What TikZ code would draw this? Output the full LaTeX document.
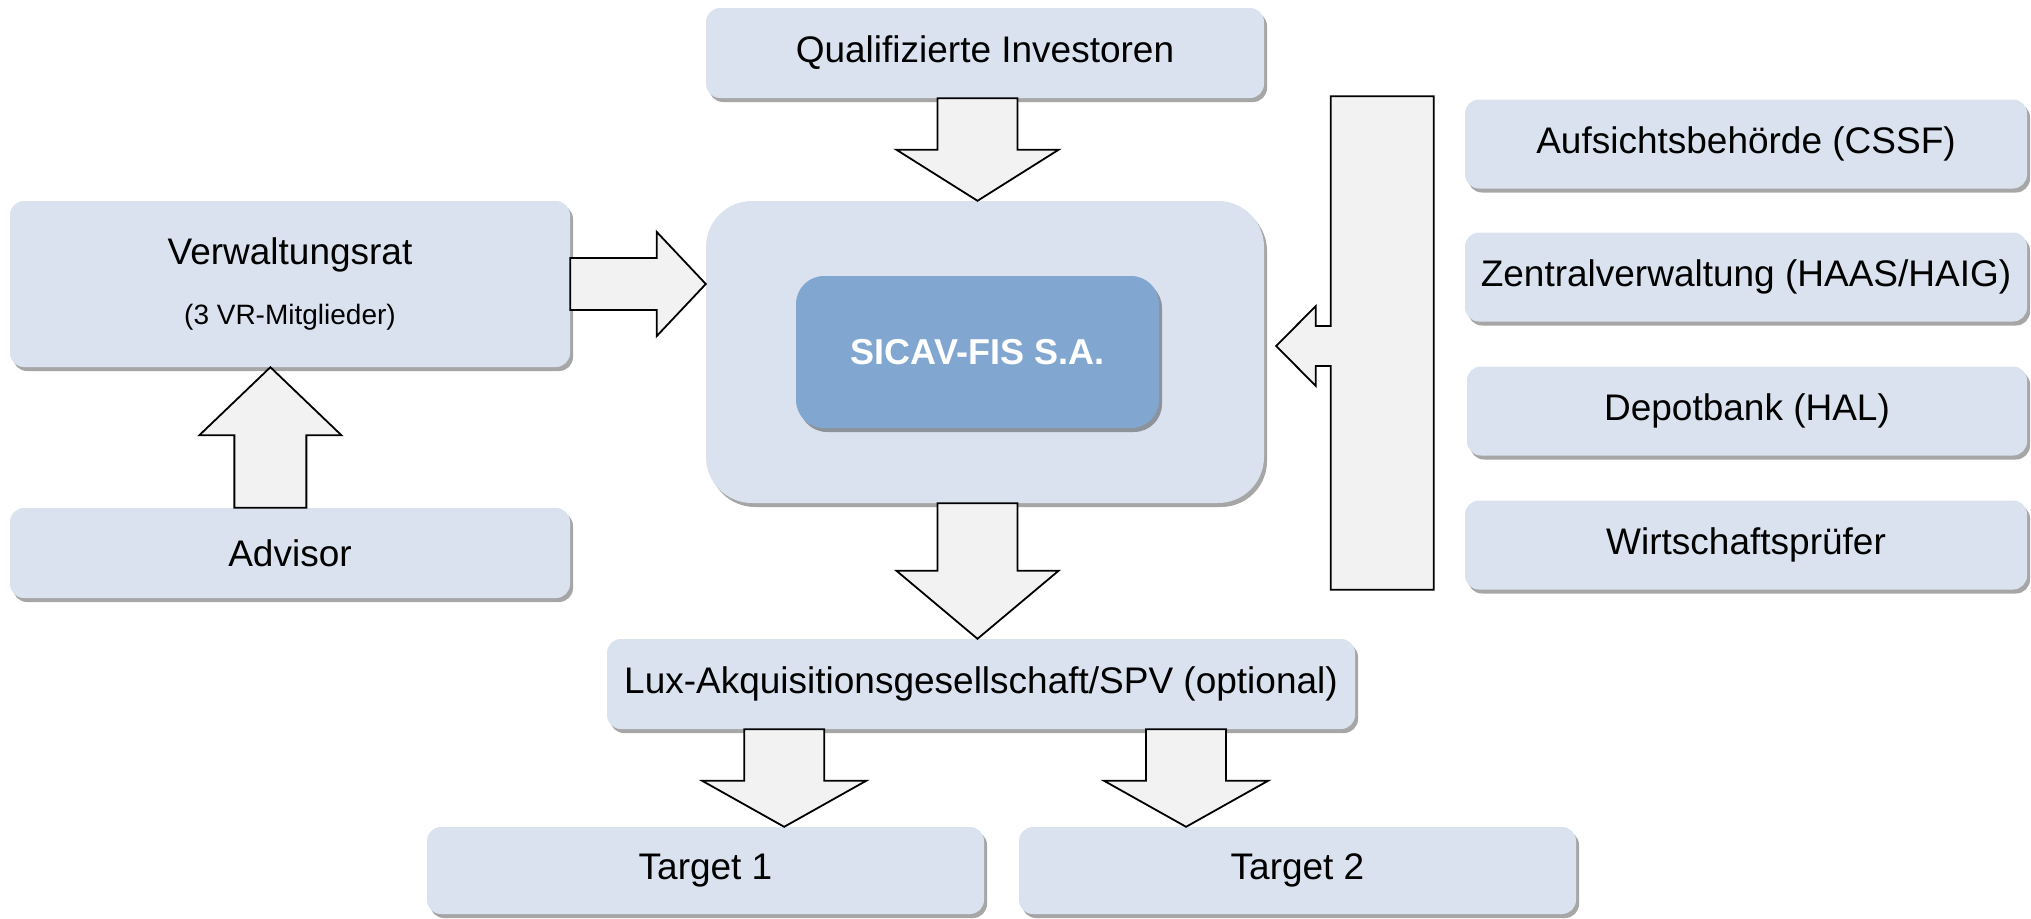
\documentclass[tikz,border=0pt]{standalone}
\usepackage{fontspec}
\setmainfont{Liberation Sans}
\usetikzlibrary{calc, positioning, shadows}
\definecolor{boxBlue}{RGB}{217,226,238}
\definecolor{coreBlue}{RGB}{129,167,208}
\definecolor{arrowGray}{RGB}{242,242,242}
\tikzset{
    box/.style={rectangle, rounded corners=14pt, fill=boxBlue, minimum height=90, inner sep=2pt,
        font=\fontsize{37}{44}\selectfont,
        drop shadow={shadow xshift=3pt, shadow yshift=-4pt, fill=black, opacity=0.35}},
    bigBox/.style={box, rounded corners=46pt},
    coreBox/.style={box, fill=coreBlue, rounded corners=28pt, text=white, font=\fontsize{36}{42}\selectfont\bfseries},
    blockArrow/.style={draw=black, fill=arrowGray, line width=1.8pt, line join=miter},
}
\newcommand{\drawBlockArrow}[5]{
    % #1 start, #2 tip, #3 half shaft, #4 half head, #5 head length
    \coordinate (from) at (#1);
    \coordinate (tip) at (#2);
    \coordinate (base) at ($(tip)!#5pt!(from)$);
    \draw[blockArrow] ($(from)!#3pt!90:(tip)$) -- ($(base)!#3pt!90:(tip)$) -- ($(base)!#4pt!90:(tip)$)
        -- (tip) -- ($(base)!#4pt!-90:(tip)$) -- ($(base)!#3pt!-90:(tip)$) -- ($(from)!#3pt!-90:(tip)$) -- cycle;
}

\begin{document}
\begin{tikzpicture}[x=1pt, y=-1pt]
    \useasboundingbox (0,0) rectangle (2031,918);

    \node[box, minimum width=558] (qual) at (985,53) {Qualifizierte Investoren};
    \node[bigBox, minimum width=558, minimum height=302] (fund) at (985,352) {};
    \node[coreBox, minimum width=363, minimum height=152] (core) at (977.5,352) {SICAV-FIS S.A.};
    \node[box, minimum width=560, minimum height=166, align=center] (verw) at (290,284)
        {Verwaltungsrat\\[16pt]{\fontsize{28}{34}\selectfont (3 VR-Mitglieder)}};
    \node[box, minimum width=560] (advisor) at (290,553) {Advisor};

    \node[box, minimum width=562, minimum height=89] (cssf) at (1746,144) {Aufsichtsbehörde (CSSF)};
    \node[box, minimum width=562, minimum height=89] (admin) at (1746,277) {Zentralverwaltung (HAAS/HAIG)};
    \node[box, minimum width=560, minimum height=89] (depot) at (1747,411) {Depotbank (HAL)};
    \node[box, minimum width=562, minimum height=89] (auditor) at (1746,545) {Wirtschaftsprüfer};

    \node[box, minimum width=748] (lux) at (981,684) {Lux-Akquisitionsgesellschaft/SPV (optional)};
    \node[box, minimum width=557, minimum height=87] (t1) at (705.5,870.5) {Target 1};
    \node[box, minimum width=557, minimum height=87] (t2) at (1297.5,870.5) {Target 2};

    \coordinate (advTop) at ($(advisor.north west)!0.465!(advisor.north east)$);
    \coordinate (luxL) at ($(lux.south west)!0.237!(lux.south east)$);
    \coordinate (luxR) at ($(lux.south west)!0.774!(lux.south east)$);
    \coordinate (brTip) at ($(fund.east)+(12,-6)$);

    \drawBlockArrow{qual.south -| core.center}{fund.north -| core.center}{40}{81}{51}
    \drawBlockArrow{fund.south -| core.center}{lux.north -| core.center}{40}{81}{68}
    \drawBlockArrow{verw.east}{verw.east -| fund.west}{26}{52}{49}
    \drawBlockArrow{advTop}{advTop |- verw.south}{36}{71}{68}
    \drawBlockArrow{luxL}{luxL |- t1.north}{40}{82}{46}
    \drawBlockArrow{luxR}{luxR |- t2.north}{40}{82}{46}

    \draw[blockArrow] let \p1 = ($(cssf.north west)+(-31,-3)$), \p2 = ($(auditor.south west)+(-134,0)$), \p3 = (brTip) in
        (\x1,\y1) -- (\x2,\y1) -- (\x2,\y3+20pt) -- (\x2-15pt,\y3+20pt) -- (\x2-15pt,\y3+40pt) -- (\p3)
        -- (\x2-15pt,\y3-40pt) -- (\x2-15pt,\y3-20pt) -- (\x2,\y3-20pt) -- (\x2,\y2) -- (\x1,\y2) -- cycle;

\end{tikzpicture}
\end{document}
